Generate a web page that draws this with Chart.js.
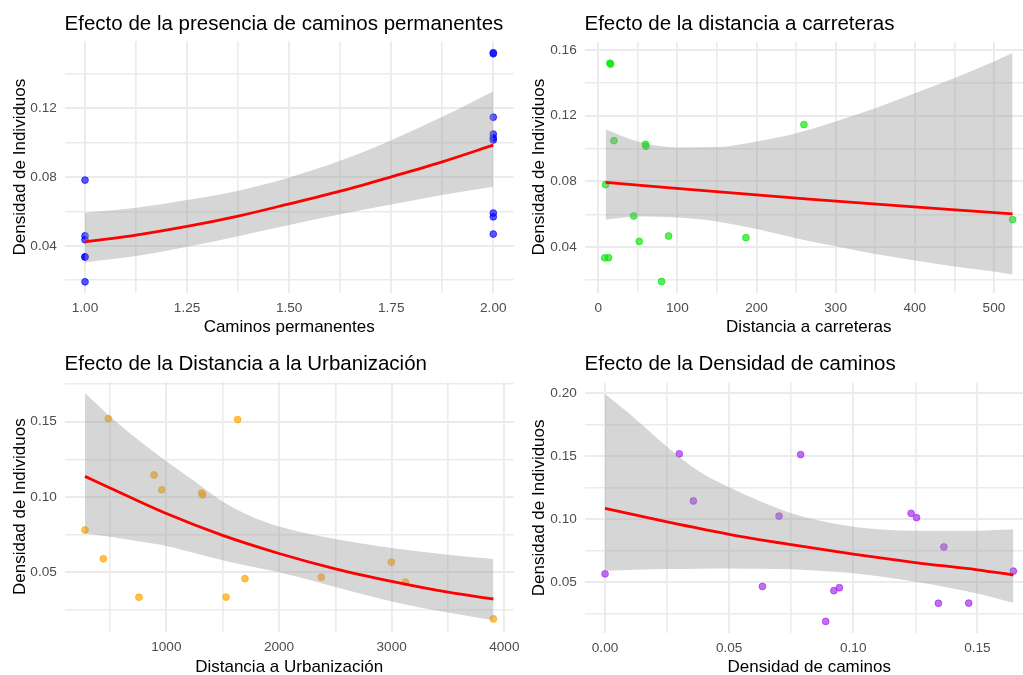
<!DOCTYPE html>
<html lang="es">
<head>
<meta charset="utf-8">
<title>Efectos sobre la densidad de individuos</title>
<script src="https://cdn.jsdelivr.net/npm/chart.js@4.4.1/dist/chart.umd.min.js"></script>
<style>
  html, body { margin: 0; padding: 0; background: #ffffff; }
  body { width: 1023px; height: 675px; overflow: hidden; position: relative; }
  canvas { position: absolute; }
</style>
</head>
<body>
<canvas id="g1" width="530" height="345" style="left:0px;top:0px"></canvas>
<canvas id="g2" width="530" height="345" style="left:512px;top:0px"></canvas>
<canvas id="g3" width="530" height="345" style="left:0px;top:340px"></canvas>
<canvas id="g4" width="530" height="345" style="left:512px;top:340px"></canvas>
<script>
// Densidad de individuos en los 15 sitios (mismo orden en todas las variables)
const densidad = [0.1520, 0.1514, 0.1146, 0.1048, 0.1026, 0.1014, 0.0781, 0.0590, 0.0568, 0.0468, 0.0458, 0.0435, 0.0335, 0.0336, 0.0191];

// Variables explicativas de cada sitio
const caminosPermanentes = [2, 2, 2, 2, 2, 2, 1, 2, 2, 2, 1, 1, 1, 1, 1];
const distanciaCarreteras = [14.7, 15.5, 259.9, 19.8, 59.6, 60.2, 9.3, 44.7, 523.6, 88.9, 186.6, 51.8, 8.2, 13.0, 80.0];
const distanciaUrbanizacion = [485, 1633, 891, 959, 1314, 1323, 278, 441, 2997, 2376, 1698, 3122, 757, 1530, 3903];
const densidadCaminos = [0.0299, 0.0788, 0.0356, 0.1233, 0.0701, 0.1255, 0.1365, 0.1645, 0.0, 0.0634, 0.0944, 0.0922, 0.1343, 0.1465, 0.0889];

// Curvas ajustadas (GLM) y su banda de confianza
const ajuste1X = [1, 1.125, 1.25, 1.375, 1.5, 1.625, 1.75, 1.875, 2];
const ajuste1Y = [0.0423, 0.0462, 0.0512, 0.0572, 0.0643, 0.0717, 0.0800, 0.0887, 0.0984];
const banda1Inf = [0.0303, 0.0340, 0.0394, 0.0456, 0.0520, 0.0583, 0.0639, 0.0694, 0.0742];
const banda1Sup = [0.0591, 0.0620, 0.0665, 0.0719, 0.0796, 0.0893, 0.1013, 0.1148, 0.1297];

const ajuste2X = [9.3, 266, 523.6];
const ajuste2Y = [0.0794, 0.0692, 0.0603];
const banda2X = [9.3, 50, 100, 150, 200, 250, 300, 350, 400, 450, 500, 523.6];
const banda2Inf = [0.0567, 0.0587, 0.0581, 0.0557, 0.0510, 0.0455, 0.0405, 0.0358, 0.0319, 0.0283, 0.0252, 0.0232];
const banda2Sup = [0.1118, 0.1043, 0.1007, 0.1009, 0.1043, 0.1094, 0.1165, 0.1246, 0.1337, 0.1429, 0.1530, 0.1581];

const ajuste3X = [278, 500, 1000, 1500, 2000, 2500, 3000, 3500, 3903];
const ajuste3Y = [0.1137, 0.1060, 0.0890, 0.0745, 0.0625, 0.0523, 0.0440, 0.0368, 0.0323];
const banda3X = [278, 500, 750, 1000, 1250, 1500, 1750, 2000, 2500, 3000, 3500, 3903];
const banda3Inf = [0.0757, 0.0737, 0.0706, 0.0675, 0.0628, 0.0580, 0.0538, 0.0500, 0.0403, 0.0307, 0.0233, 0.0182];
const banda3Sup = [0.1690, 0.1535, 0.1380, 0.1237, 0.1104, 0.0970, 0.0872, 0.0805, 0.0721, 0.0662, 0.0617, 0.0589];

const ajuste4X = [0, 0.025, 0.05, 0.075, 0.1, 0.125, 0.15, 0.1645];
const ajuste4Y = [0.1087, 0.0980, 0.0882, 0.0800, 0.0725, 0.0658, 0.0600, 0.0559];
const banda4X = [0, 0.0125, 0.025, 0.0375, 0.05, 0.0625, 0.075, 0.0875, 0.1, 0.125, 0.15, 0.1645];
const banda4Inf = [0.0593, 0.0600, 0.0606, 0.0609, 0.0611, 0.0608, 0.0604, 0.0590, 0.0572, 0.0506, 0.0413, 0.0339];
const banda4Sup = [0.1994, 0.1793, 0.1576, 0.1385, 0.1254, 0.1143, 0.1048, 0.0985, 0.0942, 0.0910, 0.0910, 0.0921];

// Marcas de los ejes (principales con etiqueta, secundarias solo rejilla)
const ticks1X = [1, 1.25, 1.5, 1.75, 2];
const etiquetas1X = ['1.00', '1.25', '1.50', '1.75', '2.00'];
const menores1X = [1.125, 1.375, 1.625, 1.875];
const ticks1Y = [0.04, 0.08, 0.12];
const etiquetas1Y = ['0.04', '0.08', '0.12'];
const menores1Y = [0.02, 0.06, 0.10, 0.14];

const ticks2X = [0, 100, 200, 300, 400, 500];
const etiquetas2X = ['0', '100', '200', '300', '400', '500'];
const menores2X = [50, 150, 250, 350, 450];
const ticks2Y = [0.04, 0.08, 0.12, 0.16];
const etiquetas2Y = ['0.04', '0.08', '0.12', '0.16'];
const menores2Y = [0.02, 0.06, 0.10, 0.14];

const ticks3X = [1000, 2000, 3000, 4000];
const etiquetas3X = ['1000', '2000', '3000', '4000'];
const menores3X = [500, 1500, 2500, 3500];
const ticks3Y = [0.05, 0.10, 0.15];
const etiquetas3Y = ['0.05', '0.10', '0.15'];
const menores3Y = [0.025, 0.075, 0.125, 0.175];

const ticks4X = [0, 0.05, 0.10, 0.15];
const etiquetas4X = ['0.00', '0.05', '0.10', '0.15'];
const menores4X = [0.025, 0.075, 0.125];
const ticks4Y = [0.05, 0.10, 0.15, 0.20];
const etiquetas4Y = ['0.05', '0.10', '0.15', '0.20'];
const menores4Y = [0.025, 0.075, 0.125, 0.175];


//============================================================

const FUENTE = '"Liberation Sans", Arial, Helvetica, sans-serif';
Chart.defaults.font.family = FUENTE;

// Título de cada panel, alineado con el borde izquierdo del área de datos (como ggplot)
const tituloPanel = {
    id: 'tituloPanel',
    afterDraw(chart, args, opts) {
        const ctx = chart.ctx;
        ctx.save();
        ctx.font = '20.5px ' + FUENTE;
        ctx.fillStyle = '#000000';
        ctx.textAlign = 'left';
        ctx.textBaseline = 'alphabetic';
        ctx.fillText(opts.texto, chart.chartArea.left, 29.8);
        ctx.restore();
    }
};

function pares(xs, ys) {
    return xs.map((x, i) => ({ x: x, y: ys[i] }));
}

function eje(cfg) {
    // cfg: min, max, ticks, etiquetas, menores, titulo, tamano (ancho o alto fijo del eje), horizontal
    const todos = cfg.ticks.concat(cfg.menores).sort((a, b) => a - b);
    return {
        type: 'linear',
        min: cfg.min,
        max: cfg.max,
        afterBuildTicks: (s) => { s.ticks = todos.map(v => ({ value: v })); },
        afterFit: (s) => {
            if (cfg.horizontal) s.height = cfg.tamano; else s.width = cfg.tamano;
            s.paddingLeft = 0; s.paddingRight = 0; s.paddingTop = 0; s.paddingBottom = 0;
        },
        ticks: {
            autoSkip: false,
            maxRotation: 0,
            minRotation: 0,
            padding: cfg.horizontal ? 7.3 : 7.8,
            color: '#4D4D4D',
            font: { size: 13.6 },
            callback: function(value) {
                const i = cfg.ticks.indexOf(value);
                return i >= 0 ? cfg.etiquetas[i] : '';
            }
        },
        grid: {
            color: '#EBEBEB',
            lineWidth: (c) => (c.tick && cfg.menores.includes(c.tick.value)) ? 1.6 : 1.9,
            drawTicks: false
        },
        border: { display: false },
        title: {
            display: true,
            text: cfg.titulo,
            color: '#000000',
            font: { size: 17 },
            padding: { top: 4, bottom: 4 }
        }
    };
}

function crearPanel(p) {
    // p.area: límites del área de datos dentro del lienzo de 530x345
    const padIzq = p.medioTituloY - 8.5 - 4 - 1.7;
    const padInf = 345 - (p.medioTituloX + 10.2 + 4);
    return new Chart(document.getElementById(p.id), {
        type: 'line',
        data: {
            datasets: [
                {
                    data: pares(p.x, densidad),
                    showLine: false,
                    pointRadius: 3.4,
                    pointBorderWidth: 1,
                    pointBackgroundColor: p.color,
                    pointBorderColor: p.color,
                    order: 3
                },
                {
                    data: pares(p.bandaX, p.bandaInf),
                    borderColor: 'transparent',
                    pointRadius: 0,
                    fill: false,
                    cubicInterpolationMode: 'monotone',
                    order: 2
                },
                {
                    data: pares(p.bandaX, p.bandaSup),
                    borderColor: 'transparent',
                    backgroundColor: 'rgba(153, 153, 153, 0.4)',
                    pointRadius: 0,
                    fill: '-1',
                    cubicInterpolationMode: 'monotone',
                    order: 2
                },
                {
                    data: pares(p.ajusteX, p.ajusteY),
                    borderColor: '#FF0000',
                    borderWidth: 2.8,
                    pointRadius: 0,
                    fill: false,
                    cubicInterpolationMode: 'monotone',
                    order: 1
                }
            ]
        },
        options: {
            responsive: false,
            animation: false,
            events: [],
            layout: {
                padding: { left: padIzq, right: 530 - p.area.right, top: p.area.top, bottom: padInf }
            },
            scales: {
                x: eje({ min: p.xMin, max: p.xMax, ticks: p.ticksX, etiquetas: p.etiquetasX, menores: p.menoresX,
                         titulo: p.tituloX, horizontal: true, tamano: (345 - padInf) - p.area.bottom }),
                y: eje({ min: p.yMin, max: p.yMax, ticks: p.ticksY, etiquetas: p.etiquetasY, menores: p.menoresY,
                         titulo: 'Densidad de Individuos', horizontal: false, tamano: p.area.left - padIzq })
            },
            plugins: {
                legend: { display: false },
                tooltip: { enabled: false },
                tituloPanel: { texto: p.titulo }
            }
        },
        plugins: [tituloPanel]
    });
}

crearPanel({
    id: 'g1', titulo: 'Efecto de la presencia de caminos permanentes', tituloX: 'Caminos permanentes',
    color: 'rgba(0, 0, 255, 0.65)', x: caminosPermanentes,
    ajusteX: ajuste1X, ajusteY: ajuste1Y, bandaX: ajuste1X, bandaInf: banda1Inf, bandaSup: banda1Sup,
    xMin: 0.95, xMax: 2.05, yMin: 0.01266, yMax: 0.15864,
    ticksX: ticks1X, etiquetasX: etiquetas1X, menoresX: menores1X,
    ticksY: ticks1Y, etiquetasY: etiquetas1Y, menoresY: menores1Y,
    area: { left: 64.6, right: 513.7, top: 41.3, bottom: 292.9 }, medioTituloY: 20.1, medioTituloX: 327.7
});

crearPanel({
    id: 'g2', titulo: 'Efecto de la distancia a carreteras', tituloX: 'Distancia a carreteras',
    color: 'rgba(0, 230, 0, 0.65)', x: distanciaCarreteras,
    ajusteX: ajuste2X, ajusteY: ajuste2Y, bandaX: banda2X, bandaInf: banda2Inf, bandaSup: banda2Sup,
    xMin: -17.4, xMax: 549.4, yMin: 0.01236, yMax: 0.16504,
    ticksX: ticks2X, etiquetasX: etiquetas2X, menoresX: menores2X,
    ticksY: ticks2Y, etiquetasY: etiquetas2Y, menoresY: menores2Y,
    area: { left: 72.5, right: 521, top: 41.7, bottom: 292.6 }, medioTituloY: 27.4, medioTituloX: 327.7
});

crearPanel({
    id: 'g3', titulo: 'Efecto de la Distancia a la Urbanización', tituloX: 'Distancia a Urbanización',
    color: 'rgba(255, 165, 0, 0.7)', x: distanciaUrbanizacion,
    ajusteX: ajuste3X, ajusteY: ajuste3Y, bandaX: banda3X, bandaInf: banda3Inf, bandaSup: banda3Sup,
    xMin: 97, xMax: 4084, yMin: 0.01066, yMax: 0.17654,
    ticksX: ticks3X, etiquetasX: etiquetas3X, menoresX: menores3X,
    ticksY: ticks3Y, etiquetasY: etiquetas3Y, menoresY: menores3Y,
    area: { left: 64.6, right: 513.8, top: 41.7, bottom: 291.6 }, medioTituloY: 20.1, medioTituloX: 327
});

crearPanel({
    id: 'g4', titulo: 'Efecto de la Densidad de caminos', tituloX: 'Densidad de caminos',
    color: 'rgba(160, 32, 240, 0.65)', x: densidadCaminos,
    ajusteX: ajuste4X, ajusteY: ajuste4Y, bandaX: banda4X, bandaInf: banda4Inf, bandaSup: banda4Sup,
    xMin: -0.00823, xMax: 0.17273, yMin: 0.0099, yMax: 0.2084,
    ticksX: ticks4X, etiquetasX: etiquetas4X, menoresX: menores4X,
    ticksY: ticks4Y, etiquetasY: etiquetas4Y, menoresY: menores4Y,
    area: { left: 72.6, right: 521.8, top: 42.7, bottom: 293 }, medioTituloY: 27.4, medioTituloX: 327.7
});
</script>
</body>
</html>
